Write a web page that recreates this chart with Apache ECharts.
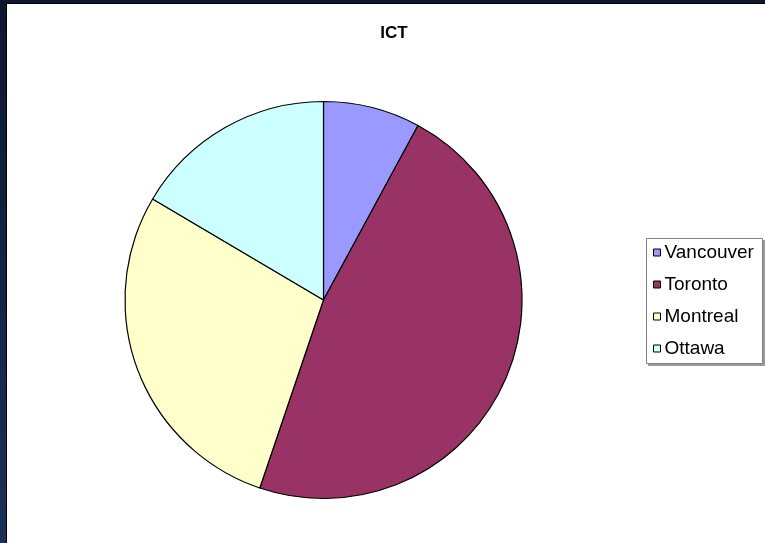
<!DOCTYPE html>
<html>
<head>
<meta charset="utf-8">
<script src="https://cdn.jsdelivr.net/npm/echarts@6/dist/echarts.min.js"></script>
<style>
html,body{margin:0;padding:0;background:#13223f;}
#chart{width:765px;height:543px;}
</style>
</head>
<body>
<div id="chart"></div>
<script>
const categories = ['Vancouver', 'Toronto', 'Montreal', 'Ottawa'];
const values = [7.9, 47.3, 28.3, 16.5];
const colors = ['#9999FF', '#993366', '#FFFFCC', '#CCFFFF'];
const titleText = 'ICT';

const chart = echarts.init(document.getElementById('chart'), null, {renderer: 'canvas'});
chart.setOption({
  animation: false,
  backgroundColor: {
    type: 'linear', x: 0, y: 0, x2: 0, y2: 1,
    colorStops: [{offset: 0, color: '#0d1730'}, {offset: 1, color: '#1c3158'}]
  },
  graphic: [
    {type: 'rect', shape: {x: 6, y: 3, width: 770, height: 560}, style: {fill: '#000000'}, z: 0},
    {type: 'rect', shape: {x: 7, y: 4, width: 770, height: 560}, style: {fill: '#ffffff'}, z: 1},
    {type: 'rect', shape: {x: 648, y: 240, width: 117, height: 126}, style: {fill: '#9a9a9a'}, z: 2},
    {type: 'rect', shape: {x: 646.5, y: 238.5, width: 116, height: 125}, style: {fill: '#ffffff', stroke: '#808080', lineWidth: 1}, z: 3}
  ],
  title: {
    text: titleText,
    left: 389, top: 20, textAlign: 'center',
    textStyle: {fontFamily: 'Liberation Sans, Arial, sans-serif', fontWeight: 'bold', fontSize: 17, color: '#000'}
  },
  legend: {
    orient: 'vertical',
    left: 653, top: 243,
    padding: 0,
    itemWidth: 7, itemHeight: 7,
    itemGap: 13,
    icon: 'rect',
    itemStyle: {borderColor: '#000', borderWidth: 1},
    textStyle: {fontFamily: 'Liberation Sans, Arial, sans-serif', fontSize: 19, lineHeight: 19, color: '#000', padding: [0, 0, 0, -1]},
    data: categories,
    z: 10
  },
  series: [{
    type: 'pie',
    center: [323.5, 300],
    radius: 198.5,
    startAngle: 90,
    clockwise: true,
    label: {show: false},
    labelLine: {show: false},
    emphasis: {disabled: true},
    itemStyle: {borderColor: '#000', borderWidth: 1.2},
    data: categories.map((c, i) => ({name: c, value: values[i], itemStyle: {color: colors[i]}})),
    z: 5
  }]
});
</script>
</body>
</html>
